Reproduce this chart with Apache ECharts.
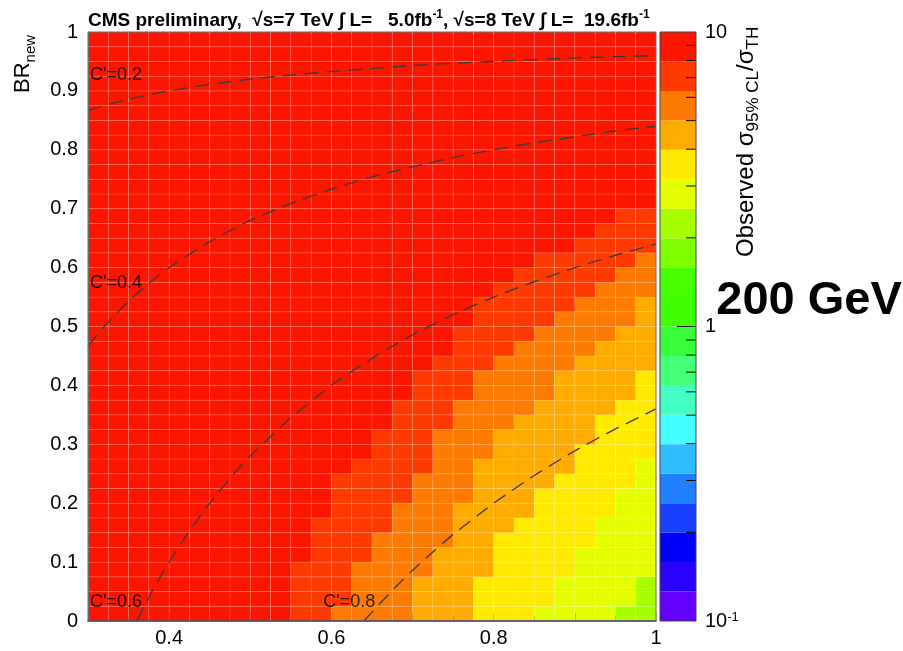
<!DOCTYPE html>
<html>
<head>
<meta charset="utf-8">
<script src="https://cdn.jsdelivr.net/npm/echarts@6/dist/echarts.min.js"></script>
<style>
  html, body { margin: 0; padding: 0; background: #fff; }
  #chart { width: 903px; height: 651px; }
</style>
</head>
<body>
<div id="chart"></div>
<script>
// lower edges of the 0.025 x 0.025 bins
const xBins = [0.3, 0.325, 0.35, 0.375, 0.4, 0.425, 0.45, 0.475, 0.5, 0.525, 0.55, 0.575, 0.6, 0.625,
  0.65, 0.675, 0.7, 0.725, 0.75, 0.775, 0.8, 0.825, 0.85, 0.875, 0.9, 0.925, 0.95, 0.975];
const yBins = [0, 0.025, 0.05, 0.075, 0.1, 0.125, 0.15, 0.175, 0.2, 0.225, 0.25, 0.275, 0.3, 0.325,
  0.35, 0.375, 0.4, 0.425, 0.45, 0.475, 0.5, 0.525, 0.55, 0.575, 0.6, 0.625, 0.65, 0.675, 0.7, 0.725,
  0.75, 0.775, 0.8, 0.825, 0.85, 0.875, 0.9, 0.925, 0.95, 0.975];
const binSize = 0.025;

// per column: how many bins (from BR=0 up) reach each colour step
const rowsL1 = [0, 0, 0, 0, 0, 0, 0, 0, 0, 0, 4, 7, 10, 11, 13, 15, 17, 18, 20, 22, 23, 24, 25, 25, 26, 27, 28, 28];
const rowsL2 = [0, 0, 0, 0, 0, 0, 0, 0, 0, 0, 0, 0, 1, 4, 6, 8, 10, 13, 15, 17, 18, 19, 20, 21, 22, 23, 24, 25];
const rowsL3 = [0, 0, 0, 0, 0, 0, 0, 0, 0, 0, 0, 0, 0, 0, 0, 0, 3, 5, 8, 11, 13, 14, 15, 17, 18, 19, 20, 22];
const rowsL4 = [0, 0, 0, 0, 0, 0, 0, 0, 0, 0, 0, 0, 0, 0, 0, 0, 0, 0, 0, 3, 6, 7, 9, 10, 12, 14, 15, 17];
const rowsL5 = [0, 0, 0, 0, 0, 0, 0, 0, 0, 0, 0, 0, 0, 0, 0, 0, 0, 0, 0, 0, 0, 0, 1, 3, 5, 7, 9, 11];
const rowsL6 = [0, 0, 0, 0, 0, 0, 0, 0, 0, 0, 0, 0, 0, 0, 0, 0, 0, 0, 0, 0, 0, 0, 0, 0, 0, 0, 1, 3];

// colour scale, log10(sigma_95/sigma_TH), 20 bands bottom -> top
const zEdges = [-1, -0.9, -0.8, -0.7, -0.6, -0.5, -0.4, -0.3, -0.2, -0.1, 0,
  0.1, 0.2, 0.3, 0.4, 0.5, 0.6, 0.7, 0.8, 0.9, 1];
const zColors = ['#6400ff', '#2a00ff', '#0000ff', '#1a40ff', '#2080ff', '#2cbcff', '#44ffff', '#44ffc4',
  '#44ff77', '#36ff3a', '#40ff00', '#48ff00', '#80ff00', '#a8ff00', '#e4ff00', '#ffea00', '#ffab00',
  '#ff7a00', '#ff3a00', '#fc1600'];
const zTicks = [0.2, 0.3, 0.4, 0.5, 0.6, 0.7, 0.8, 0.9, 1, 2, 3, 4, 5, 6, 7, 8, 9];

// dashed C' contours
const c02 = [[0.3, 0.867], [0.33, 0.879], [0.36, 0.889], [0.4, 0.9], [0.45, 0.911], [0.5, 0.92], [0.55, 0.927],
  [0.6, 0.933], [0.65, 0.938], [0.7, 0.943], [0.75, 0.947], [0.8, 0.95], [0.85, 0.953], [0.9, 0.956], [0.95, 0.958], [1.0, 0.96]];
const c04 = [[0.3, 0.467], [0.32, 0.5], [0.35, 0.543], [0.38, 0.579], [0.4, 0.6], [0.45, 0.644], [0.5, 0.68], [0.55, 0.709],
  [0.6, 0.733], [0.65, 0.754], [0.7, 0.771], [0.75, 0.787], [0.8, 0.8], [0.85, 0.812], [0.9, 0.822], [0.95, 0.832], [1.0, 0.84]];
const c06 = [[0.36, 0], [0.37, 0.027], [0.38, 0.053], [0.39, 0.077], [0.4, 0.1], [0.42, 0.143], [0.45, 0.2], [0.48, 0.25],
  [0.5, 0.28], [0.55, 0.345], [0.6, 0.4], [0.65, 0.446], [0.7, 0.486], [0.75, 0.52], [0.8, 0.55], [0.85, 0.576],
  [0.9, 0.6], [0.95, 0.621], [1.0, 0.64]];
const c08 = [[0.64, 0], [0.65, 0.015], [0.66, 0.03], [0.68, 0.059], [0.7, 0.086], [0.72, 0.111], [0.75, 0.147], [0.78, 0.179],
  [0.8, 0.2], [0.85, 0.247], [0.9, 0.289], [0.95, 0.326], [1.0, 0.36]];
const contourLabels = [[0.3025, 0.927, "C'=0.2"], [0.3025, 0.574, "C'=0.4"], [0.3025, 0.032, "C'=0.6"], [0.59, 0.032, "C'=0.8"]];

const FONT = '"Liberation Sans", Arial, Helvetica, sans-serif';

const cells = [];
const levelRows = [rowsL1, rowsL2, rowsL3, rowsL4, rowsL5, rowsL6];
xBins.forEach((x, c) => {
  yBins.forEach((y, r) => {
    let level = 0;
    levelRows.forEach(h => { if (r < h[c]) level++; });
    cells.push([x, y, level]);
  });
});

const bands = zColors.map((col, i) => [0, zEdges[i], zEdges[i + 1], i]);

const chart = echarts.init(document.getElementById('chart'));

function contour(data) {
  return {
    type: 'line', xAxisIndex: 0, yAxisIndex: 0, data: data, z: 4,
    showSymbol: false, smooth: 0.2, silent: true,
    lineStyle: { color: '#3c3c3c', width: 1.4, type: [14, 8] }
  };
}

const option = {
  animation: false,
  backgroundColor: '#fff',
  title: {
    left: 83, top: 4,
    text: 'CMS preliminary,  √s=7 TeV ∫ L=   5.0fb{sup|-1}, √s=8 TeV ∫ L=  19.6fb{sup|-1}',
    textStyle: {
      fontFamily: FONT, fontSize: 19, fontWeight: 'bold', color: '#000', lineHeight: 24,
      rich: { sup: { fontFamily: FONT, fontSize: 12, fontWeight: 'bold', lineHeight: 12, verticalAlign: 'top' } }
    }
  },
  grid: [
    { left: 88, top: 32, width: 568, height: 589 },
    { left: 660, top: 32, width: 36, height: 589 }
  ],
  xAxis: [
    {
      gridIndex: 0, type: 'value', min: 0.3, max: 1, interval: 0.1, position: 'bottom', z: 10,
      axisLine: { show: true, lineStyle: { color: '#38327a', width: 1.5 } },
      axisTick: { show: true, inside: true, length: 8, lineStyle: { color: 'rgba(70,70,70,0.3)' } },
      minorTick: { show: true, splitNumber: 2, length: 5, lineStyle: { color: 'rgba(70,70,70,0.3)' } },
      splitLine: { show: false },
      axisLabel: {
        margin: 7, fontFamily: FONT, fontSize: 20, color: '#000',
        formatter: v => (Math.round(v * 10) % 2 === 0 ? (Math.abs(v - 1) < 1e-9 ? '1' : v.toFixed(1)) : '')
      }
    },
    { gridIndex: 1, type: 'value', min: 0, max: 1, show: false }
  ],
  yAxis: [
    {
      gridIndex: 0, type: 'value', min: 0, max: 1, interval: 0.1, position: 'left', z: 10,
      axisLine: { show: true, lineStyle: { color: '#777', width: 1 } },
      axisTick: { show: false },
      splitLine: { show: false },
      axisLabel: {
        margin: 10, fontFamily: FONT, fontSize: 20, color: '#000',
        formatter: v => (v === 0 ? '0' : Math.abs(v - 1) < 1e-9 ? '1' : v.toFixed(1))
      }
    },
    {
      gridIndex: 1, type: 'value', min: -1, max: 1, interval: 1, position: 'right',
      axisLine: { show: false }, axisTick: { show: false }, splitLine: { show: false },
      axisLabel: {
        margin: 9, fontFamily: FONT, fontSize: 20, color: '#000',
        formatter: v => (v === 1 ? '10' : v === 0 ? '1' : '10{sup|-1}'),
        rich: { sup: { fontFamily: FONT, fontSize: 13, lineHeight: 13, verticalAlign: 'top' } }
      }
    }
  ],
  series: [
    {
      type: 'custom', xAxisIndex: 0, yAxisIndex: 0, data: cells, z: 2, silent: true,
      encode: { x: 0, y: 1 },
      renderItem: (params, api) => {
        const x0 = api.value(0), y0 = api.value(1);
        const p0 = api.coord([x0, y0]);
        const p1 = api.coord([x0 + binSize, y0 + binSize]);
        return {
          type: 'rect',
          shape: { x: p0[0], y: p1[1], width: p1[0] - p0[0], height: p0[1] - p1[1] },
          style: { fill: zColors[19 - api.value(2)], stroke: 'rgba(255,255,255,0.2)', lineWidth: 0.6 }
        };
      }
    },
    contour(c02), contour(c04), contour(c06), contour(c08),
    {
      type: 'scatter', xAxisIndex: 0, yAxisIndex: 0, data: contourLabels, symbolSize: 0, z: 5, silent: true,
      label: {
        show: true, position: 'right', distance: 0, formatter: p => p.value[2],
        fontFamily: FONT, fontSize: 18, color: '#000'
      }
    },
    {
      type: 'custom', xAxisIndex: 1, yAxisIndex: 1, data: bands, z: 2, silent: true,
      encode: { x: 0, y: 1 },
      renderItem: (params, api) => {
        const p0 = api.coord([0, api.value(1)]);
        const p1 = api.coord([1, api.value(2)]);
        return {
          type: 'rect',
          shape: { x: p0[0], y: p1[1], width: p1[0] - p0[0], height: p0[1] - p1[1] },
          style: { fill: zColors[api.value(3)] }
        };
      }
    },
    {
      type: 'custom', xAxisIndex: 1, yAxisIndex: 1, data: zTicks.map(t => [1, Math.log10(t), t]), z: 3, silent: true,
      encode: { x: 0, y: 1 },
      renderItem: (params, api) => {
        const p = api.coord([1, api.value(1)]);
        const len = api.value(2) === 1 ? 19 : 10;
        return {
          type: 'line',
          shape: { x1: p[0] - len, y1: p[1], x2: p[0], y2: p[1] },
          style: { stroke: '#000', lineWidth: 1 }
        };
      }
    }
  ],
  graphic: [
    {
      type: 'rect', z: 20, silent: true,
      shape: { x: 88, y: 32, width: 568, height: 589 },
      style: { fill: 'none', stroke: '#666', lineWidth: 1 }
    },
    {
      type: 'rect', z: 20, silent: true,
      shape: { x: 660, y: 32, width: 36, height: 589 },
      style: { fill: 'none', stroke: '#444', lineWidth: 1 }
    },
    {
      type: 'text', x: 23, y: 93, rotation: Math.PI / 2, z: 20,
      style: {
        text: '{b|BR}{s|new}', fill: '#000', align: 'left', verticalAlign: 'middle',
        textAlign: 'left', textVerticalAlign: 'middle',
        rich: {
          b: { fontFamily: FONT, fontSize: 22, lineHeight: 30, verticalAlign: 'middle' },
          s: { fontFamily: FONT, fontSize: 15, lineHeight: 15, verticalAlign: 'bottom' }
        }
      }
    },
    {
      type: 'text', x: 746, y: 257, rotation: Math.PI / 2, z: 20,
      style: {
        text: '{b|Observed σ}{s|95% CL}{b|/σ}{s|TH}', fill: '#000', align: 'left', verticalAlign: 'middle',
        textAlign: 'left', textVerticalAlign: 'middle',
        rich: {
          b: { fontFamily: FONT, fontSize: 24, lineHeight: 32, verticalAlign: 'middle' },
          s: { fontFamily: FONT, fontSize: 17, lineHeight: 17, verticalAlign: 'bottom' }
        }
      }
    },
    {
      type: 'text', x: 809, y: 301, z: 20,
      style: {
        text: '200 GeV', fill: '#000', font: 'bold 47px ' + FONT,
        align: 'center', verticalAlign: 'middle', textAlign: 'center', textVerticalAlign: 'middle'
      }
    }
  ]
};

chart.setOption(option);
</script>
</body>
</html>
